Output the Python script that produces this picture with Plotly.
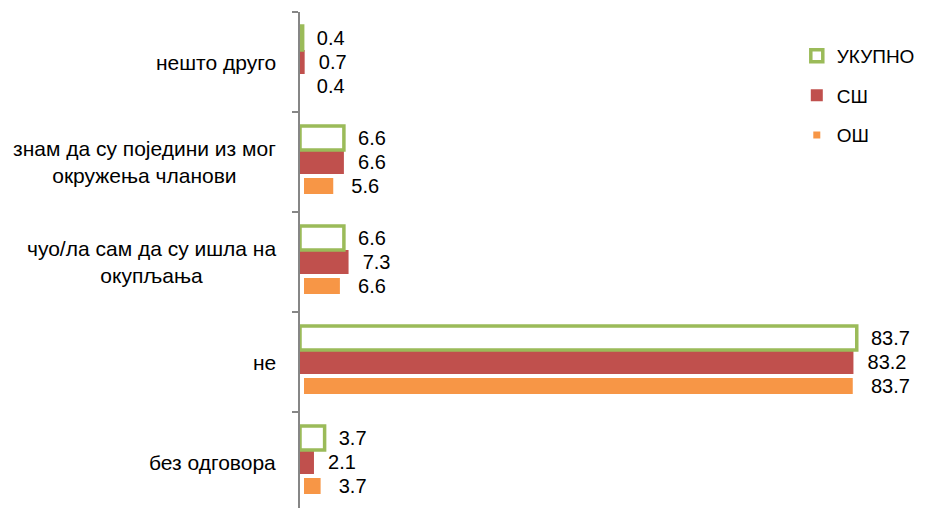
import plotly.graph_objects as go

# categories from bottom to top
categories = ["без одговора", "не", "чуо/ла сам да су ишла на<br>окупљања",
              "знам да су поједини из мог<br>окружења чланови", "нешто друго"]

osh = [3.7, 83.7, 6.6, 5.6, 0.4]      # ОШ
ssh = [2.1, 83.2, 7.3, 6.6, 0.7]      # СШ
ukupno = [3.7, 83.7, 6.6, 6.6, 0.4]   # УКУПНО

font = "Liberation Sans, Arial, sans-serif"
pad = "\u00a0\u00a0"

fig = go.Figure()

# ОШ first so it lands at the bottom of each group
fig.add_trace(go.Bar(
    y=categories, x=osh, orientation="h", name="ОШ", legendgroup="c", legendrank=3,
    marker=dict(color="#F79646", line=dict(color="white", width=8)),
    text=[pad + f"{v:.1f}" for v in osh], textposition="outside", cliponaxis=False,
))
fig.add_trace(go.Bar(
    y=categories, x=ssh, orientation="h", name="СШ", legendgroup="b", legendrank=2,
    marker=dict(color="#C0504D", line=dict(width=0)),
    text=[pad + f"{v:.1f}" for v in ssh], textposition="outside", cliponaxis=False,
))
fig.add_trace(go.Bar(
    y=categories, x=ukupno, orientation="h", name="УКУПНО", legendgroup="a", legendrank=1,
    marker=dict(color="white", line=dict(color="#9BBB59", width=3.5)),
    text=[pad + f"{v:.1f}" for v in ukupno], textposition="outside", cliponaxis=False,
))

fig.update_traces(textfont=dict(family=font, size=20, color="black"))

# category labels, centred lines like the original
for c in categories:
    fig.add_annotation(x=0, xref="paper", y=c, yref="y", text=c, showarrow=False,
                       xanchor="right", xshift=-22, align="center",
                       font=dict(family=font, size=21, color="black"))

# the page body adds an 8px offset, so the figure is 8px smaller
fig.update_layout(
    width=918, height=500,
    margin=dict(l=292, r=26, t=4, b=0),
    barmode="group", bargap=0.28, bargroupgap=0,
    plot_bgcolor="white", paper_bgcolor="white",
    font=dict(family=font, size=19, color="black"),
    legend=dict(x=0.828, y=0.95, xanchor="left", yanchor="top",
                traceorder="grouped", tracegroupgap=12,
                itemwidth=30, bgcolor="rgba(0,0,0,0)",
                font=dict(family=font, size=19)),
)
fig.update_xaxes(visible=False, range=[0, 90.2])
fig.update_yaxes(categoryorder="array", categoryarray=categories,
                 range=[-0.46, 4.5], showticklabels=False,
                 showline=True, linecolor="#868686", linewidth=2,
                 ticks="outside", ticklen=6, tickcolor="#868686", tickwidth=2,
                 tickson="boundaries", showgrid=False, zeroline=False)

fig.write_html("out.html")
